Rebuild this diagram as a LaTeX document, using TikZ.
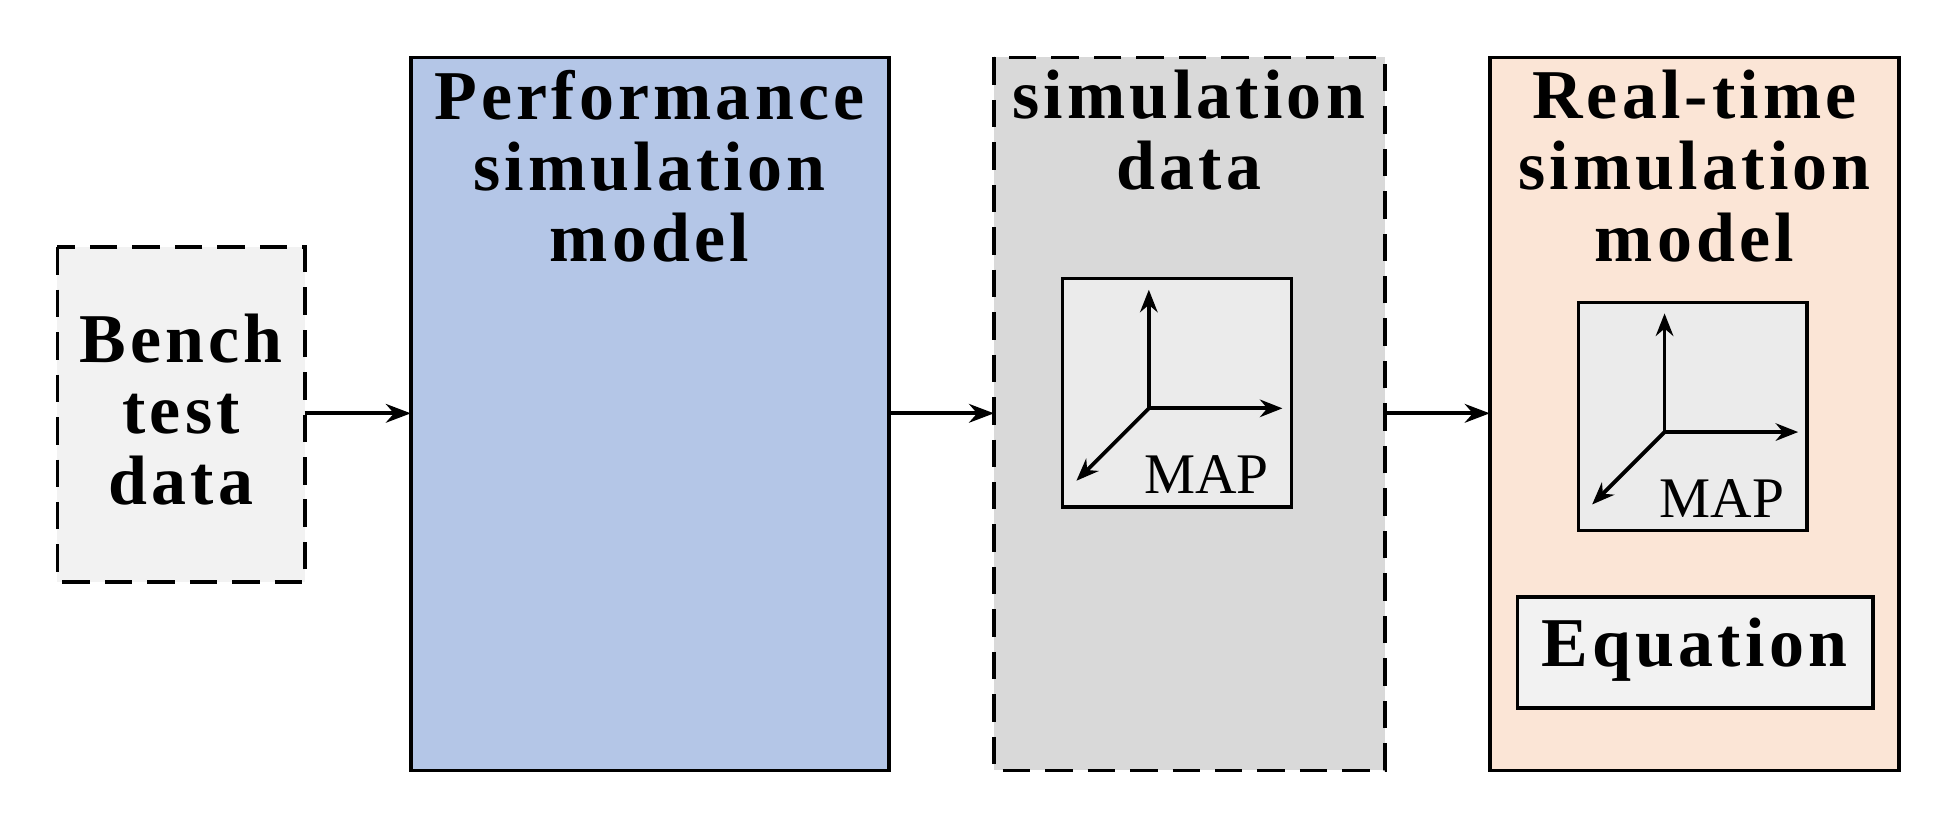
\documentclass[tikz,border=0pt]{standalone}
\usepackage{fontspec}
\setmainfont{Liberation Serif}
\usetikzlibrary{arrows.meta}
\begin{document}
\begin{tikzpicture}[x=1pt,y=-1pt,
 box/.style={draw=black,line width=3pt},
 dashbox/.style={dash pattern=on 22pt off 12pt},
 big/.style={font=\fontsize{56}{57}\selectfont\bfseries\addfontfeatures{LetterSpace=6},align=center,inner sep=0},
 arr/.style={line width=3pt,-{Stealth[length=20pt,width=15pt]}},
 ax/.style={line width=3pt,-{Stealth[length=18pt,width=14pt]}},
 maplbl/.style={font=\fontsize{46}{46}\selectfont,inner sep=0}]
\useasboundingbox (0,0) rectangle (1568,660);
\fill[white] (0,0) rectangle (1568,660);
% boxes
\draw[box,dashbox,fill={rgb,255:red,242;green,242;blue,242}] (46,198) rectangle (244,466);
\node[big] (bench) at (145,328) {Bench\\test\\data};
\coordinate (benchE) at (244,331);
\draw[box,fill={rgb,255:red,180;green,198;blue,231}] (329,46) rectangle (712,617);
\node[big,anchor=north] (perf) at (520,56) {Performance\\simulation\\model};
\coordinate (perfW) at (329,331); \coordinate (perfE) at (712,331);
\draw[box,dashbox,fill={rgb,255:red,217;green,217;blue,217}] (796,46) rectangle (1109,617);
\node[big,anchor=north] (simd) at (952,56) {simulation\\data};
\coordinate (simW) at (796,331); \coordinate (simE) at (1109,331);
\draw[box,fill={rgb,255:red,251;green,229;blue,214}] (1193,46) rectangle (1521,617);
\node[big,anchor=north] (rt) at (1357,56) {Real-time\\simulation\\model};
\coordinate (rtW) at (1193,331);
% map 1
\draw[line width=2.6pt,fill={rgb,255:red,235;green,235;blue,235}] (851,223) rectangle (1034,406);
\coordinate (o1) at (920,327);
\draw[ax] (o1) -- (920,232);
\draw[ax] (o1) -- (1027,327);
\draw[ax] (o1) -- (862,385);
\node[maplbl] (map1) at (966,380) {MAP};
% map 2
\draw[line width=2.6pt,fill={rgb,255:red,235;green,235;blue,235}] (1264,242) rectangle (1447,425);
\coordinate (o2) at (1333,346);
\draw[ax] (o2) -- (1333,251);
\draw[ax] (o2) -- (1440,346);
\draw[ax] (o2) -- (1275,404);
\node[maplbl] (map2) at (1379,399) {MAP};
% equation
\draw[line width=2.6pt,fill={rgb,255:red,242;green,242;blue,242}] (1215,478) rectangle (1500,567);
\node[big] (eq) at (1357,520) {Equation};
% arrows
\draw[arr] (benchE) -- (perfW);
\draw[arr] (perfE) -- (simW);
\draw[arr] (simE) -- (rtW);
\end{tikzpicture}
\end{document}
